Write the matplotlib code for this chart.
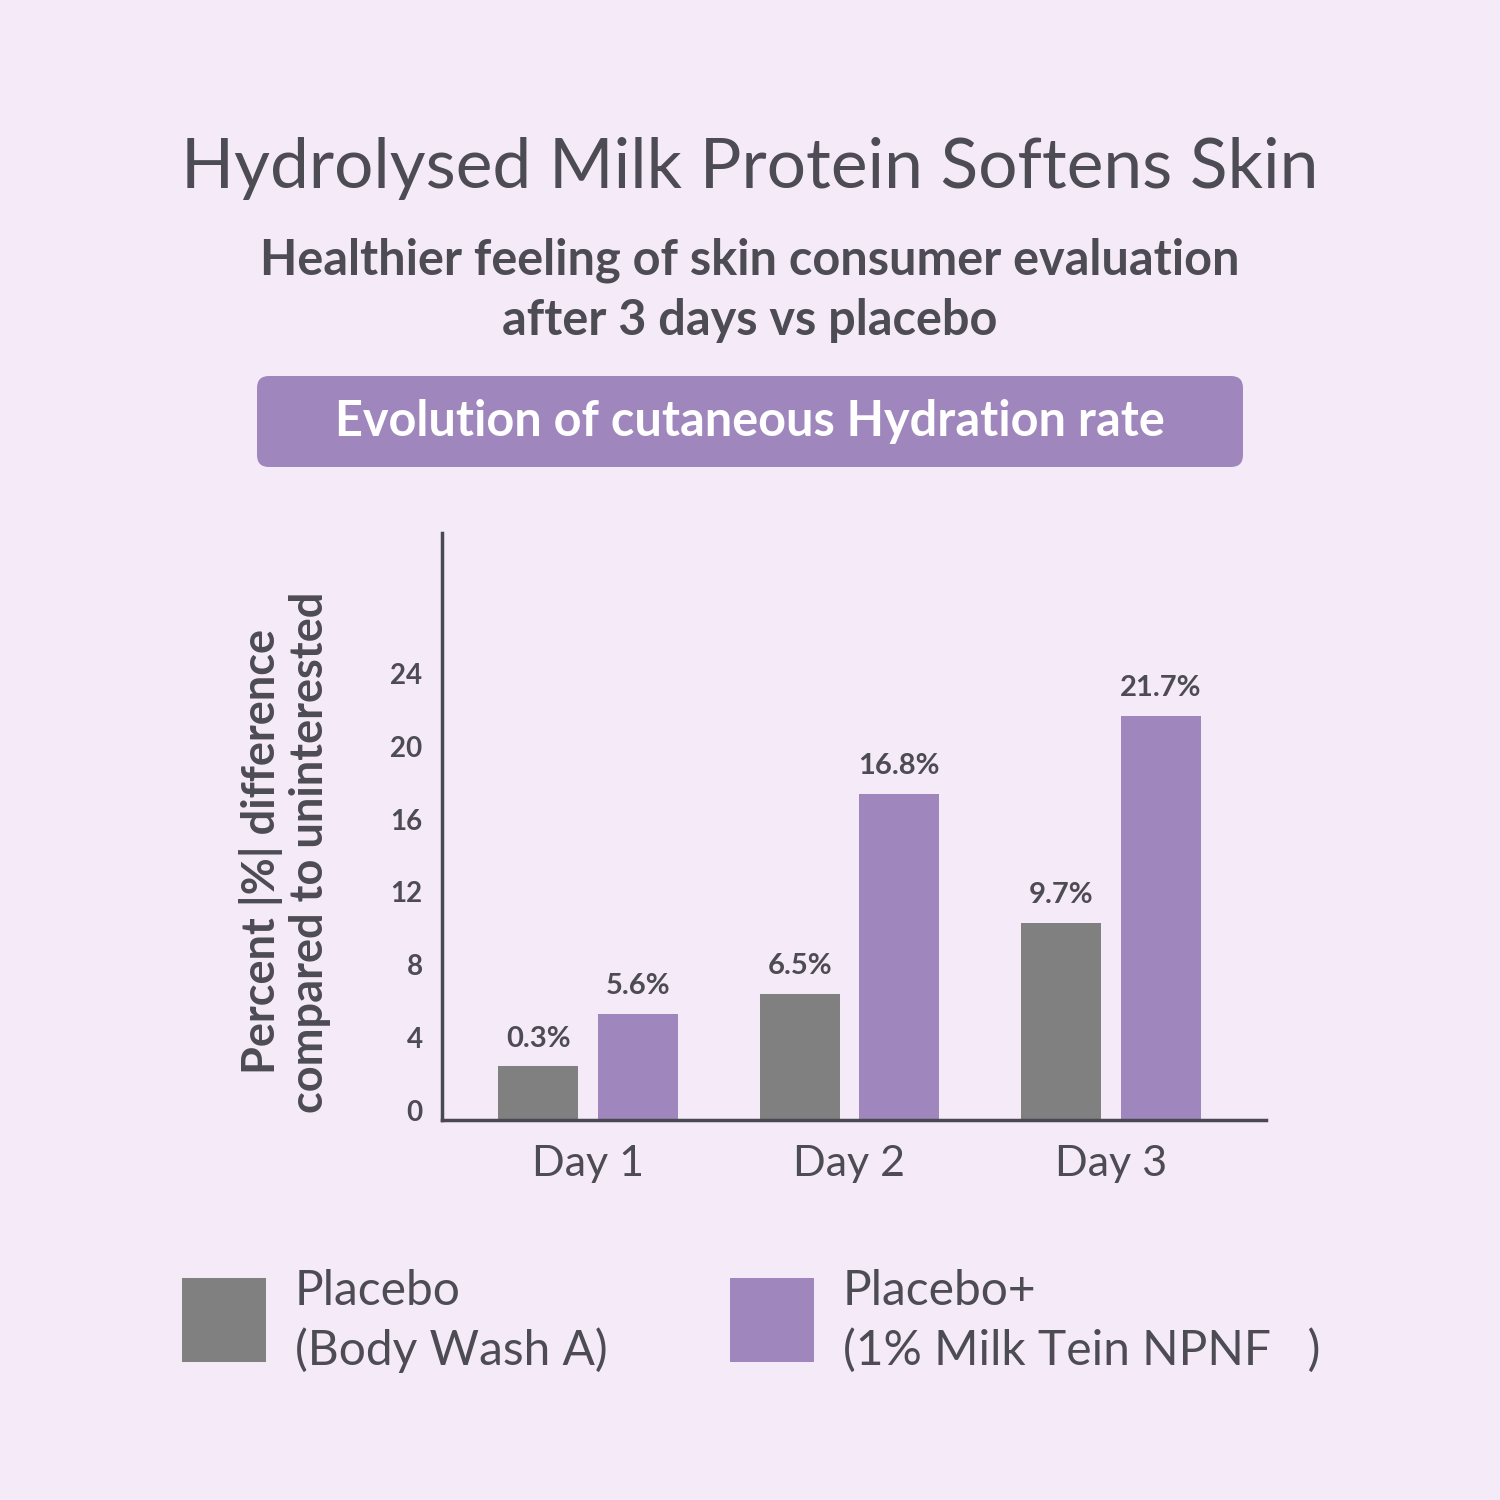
import numpy as np
import matplotlib.pyplot as plt
from matplotlib.patches import FancyBboxPatch, Rectangle

plt.rcParams['font.family'] = ['Lato', 'DejaVu Sans']

# data
days = ["Day 1", "Day 2", "Day 3"]
placebo = [2.4, 6.4, 10.3]          # bar heights as drawn
placebo_plus = [5.3, 17.4, 21.7]
placebo_lbl = ["0.3%", "6.5%", "9.7%"]
placebo_plus_lbl = ["5.6%", "16.8%", "21.7%"]
yticks = [0, 4, 8, 12, 16, 20, 24]
legend_names = ["Placebo\n(Body Wash A)", "Placebo+\n(1% Milk Tein NPNF   )"]

bg = '#f5eaf8'
grey = '#808080'
purple = '#9f87be'
txt = '#4d4b53'

fig = plt.figure(figsize=(15, 15), dpi=100)
fig.patch.set_facecolor(bg)

# titles
fig.text(0.5, 1 - 168 / 1500, "Hydrolysed Milk Protein Softens Skin", ha='center', va='center',
         fontsize=50, color=txt)
fig.text(0.5, 1 - 290 / 1500, "Healthier feeling of skin consumer evaluation\nafter 3 days vs placebo",
         ha='center', va='center', fontsize=35, fontweight='bold', color=txt, linespacing=1.4)

box = FancyBboxPatch((257 / 1500, 1 - 467 / 1500), 986 / 1500, 91 / 1500,
                     boxstyle="round,pad=0,rounding_size=0.008", transform=fig.transFigure,
                     facecolor=purple, edgecolor='none')
fig.patches.append(box)
fig.text(0.5, 1 - 422 / 1500, "Evolution of cutaneous Hydration rate", ha='center', va='center',
         fontsize=35, fontweight='bold', color='white')

# chart
ax = fig.add_axes([442 / 1500, 1 - 1120 / 1500, 824 / 1500, 587 / 1500])
ax.set_facecolor(bg)
ymin, ymax = -0.55, 31.75
x = np.arange(len(days))
w = 0.306
off = 0.19
ax.bar(x - off, np.array(placebo) - ymin, w, bottom=ymin, color=grey)
ax.bar(x + off, np.array(placebo_plus) - ymin, w, bottom=ymin, color=purple)
for i in range(len(days)):
    ax.text(x[i] - off, placebo[i] + 0.8, placebo_lbl[i], ha='center', va='bottom',
            fontsize=21, fontweight='bold', color=txt)
    ax.text(x[i] + off, placebo_plus[i] + 0.8, placebo_plus_lbl[i], ha='center', va='bottom',
            fontsize=21, fontweight='bold', color=txt)

ax.set_xlim(-0.558, 2.593)
ax.set_ylim(ymin, ymax)
ax.set_yticks(yticks)
ax.set_yticklabels([str(t) for t in yticks], fontsize=20, fontweight='bold', color=txt)
ax.set_xticks(x)
ax.set_xticklabels(days, fontsize=31, color=txt)
ax.tick_params(axis='y', length=0, pad=14)
ax.tick_params(axis='x', length=0, pad=18)
for s in ['top', 'right']:
    ax.spines[s].set_visible(False)
for s in ['left', 'bottom']:
    ax.spines[s].set_color('#4a4850')
    ax.spines[s].set_linewidth(2.5)

fig.text(285 / 1500, 1 - 852 / 1500, "Percent |%| difference\ncompared to uninterested",
         rotation=90, ha='center', va='center', fontsize=32.5, fontweight='bold', color=txt,
         linespacing=1.15)

# legend
leg_x = [182, 730]
cols = [grey, purple]
for lx, c, name in zip(leg_x, cols, legend_names):
    fig.patches.append(Rectangle((lx / 1500, 1 - 1362 / 1500), 84 / 1500, 84 / 1500,
                                 transform=fig.transFigure, facecolor=c, edgecolor='none'))
    fig.text((lx + 113) / 1500, 1 - 1321 / 1500, name, ha='left', va='center',
             fontsize=34.5, color=txt, linespacing=1.4)

fig.savefig('out.png', dpi=100, facecolor=bg)
